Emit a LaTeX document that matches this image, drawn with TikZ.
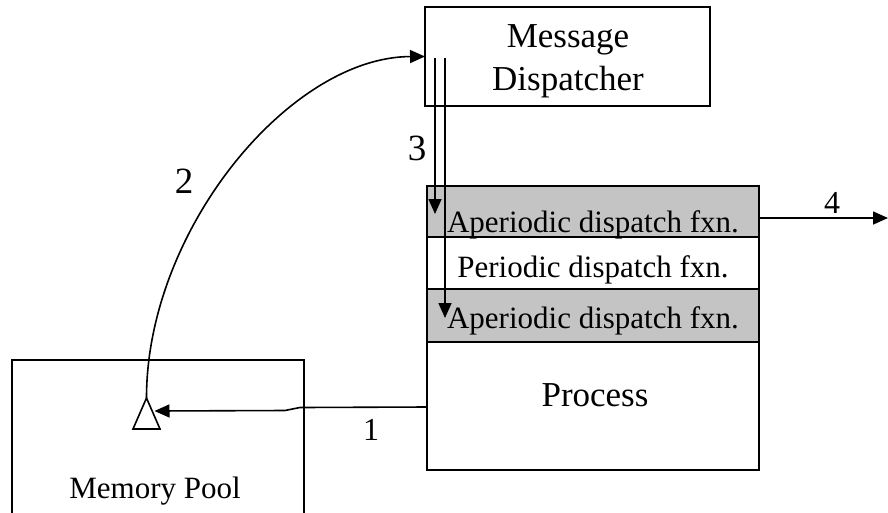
\documentclass[tikz,border=0pt]{standalone}
\usepackage{fontspec}
\setmainfont{Liberation Serif}
\usetikzlibrary{arrows.meta}
\definecolor{shade}{RGB}{196,196,196}
\begin{document}
\begin{tikzpicture}[x=1pt,y=-1pt,
  box/.style={draw,line width=1.8pt,inner sep=0pt,outer sep=0pt,anchor=north west},
  lbl/.style={inner sep=0pt,anchor=base},
  big/.style={font=\fontsize{35}{40}\selectfont},
  mid/.style={font=\fontsize{31}{36}\selectfont},
  num/.style={font=\fontsize{37}{40}\selectfont},
  smallnum/.style={font=\fontsize{32}{36}\selectfont},
  arr/.style={line width=1.6pt,-{Triangle[length=15pt,width=13pt]}}
]
\useasboundingbox (0,0) rectangle (888,512);

% boxes
\node[box,minimum width=285pt,minimum height=99pt] (disp) at (425,7) {};
\node[box,fill=shade,minimum width=332pt,minimum height=51pt] (ap1) at (427,186) {};
\node[box,minimum width=332pt,minimum height=52pt] (per) at (427,237) {};
\node[box,fill=shade,minimum width=332pt,minimum height=53pt] (ap2) at (427,289) {};
\node[box,minimum width=332pt,minimum height=128pt] (proc) at (427,342) {};
\node[box,minimum width=292pt,minimum height=156pt] (pool) at (12,360) {};

% box texts
\node[lbl,big] (msgA) at (568,47) {Message};
\node[lbl,big] (msgB) at (568,90) {Dispatcher};
\node[lbl,mid] (ap1t) at (593,232) {Aperiodic dispatch fxn.};
\node[lbl,mid] (pert) at (593,277) {Periodic dispatch fxn.};
\node[lbl,mid] (ap2t) at (593,328) {Aperiodic dispatch fxn.};
\node[lbl,big] (proct) at (595,406) {Process};
\node[lbl,mid] (poolt) at (155,498) {Memory Pool};

% buffer marker inside the pool
\draw[line width=1.6pt,fill=white] (133,429) -- (160,429) -- (146.5,398) -- cycle;
\coordinate (apex) at (146.5,398);
\coordinate (side) at (154.5,411);

% connector end points
\coordinate (p1) at (427,407);
\coordinate (s3a) at (435,58);
\coordinate (e3a) at (435,214);
\coordinate (s3b) at (445,58);
\coordinate (e3b) at (445,318);
\coordinate (s4) at (759,218);
\coordinate (e4) at (888,218);

% step 1: process to pool
\draw[arr] (p1) -- (300,407.5) -- (285,410.5) -- (side);
% step 2: pool to dispatcher
\draw[arr] (apex) .. controls (146.5,230) and (290,57) .. (disp.west);
% step 3: dispatcher to the aperiodic functions
\draw[arr] (s3a) -- (e3a);
\draw[arr] (s3b) -- (e3b);
% step 4: out of the first aperiodic function
\draw[arr] (s4) -- (e4);

% step numbers
\node[lbl,smallnum] (n1) at (371,440) {1};
\node[lbl,num] (n2) at (184,193) {2};
\node[lbl,num] (n3) at (417,160) {3};
\node[lbl,smallnum] (n4) at (832,213) {4};
\end{tikzpicture}
\end{document}
